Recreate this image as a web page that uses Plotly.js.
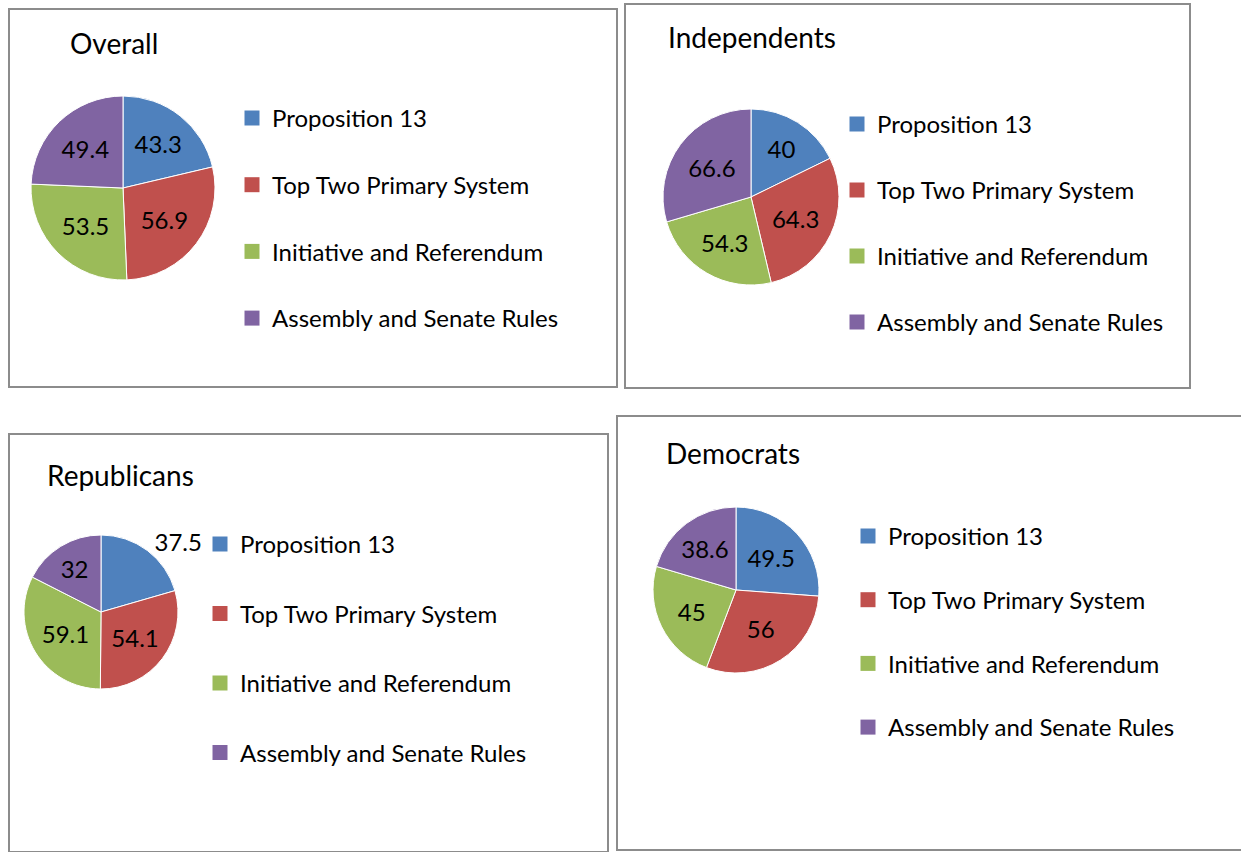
<!DOCTYPE html>
<html>
<head>
<meta charset="utf-8">
<script src="https://cdn.plot.ly/plotly-3.0.1.min.js"></script>
<style>
  body { margin: 0; background: white; }
  .panel { position: absolute; box-sizing: border-box; border: 2px solid #8c8c8c; background: white; }
</style>
</head>
<body>
<div id="overall" class="panel"></div>
<div id="independents" class="panel"></div>
<div id="republicans" class="panel"></div>
<div id="democrats" class="panel"></div>
<script>
// Four Excel-style pie charts, each in its own bordered box.

const categories = ["Proposition 13", "Top Two Primary System", "Initiative and Referendum", "Assembly and Senate Rules"];
const sliceColors = ["#4F81BD", "#C0504D", "#9BBB59", "#8064A2"];

const overallValues = [43.3, 56.9, 53.5, 49.4];
const independentValues = [40, 64.3, 54.3, 66.6];
const republicanValues = [37.5, 54.1, 59.1, 32];
const democratValues = [49.5, 56, 45, 38.6];

const FONT = "Lato, 'Open Sans', sans-serif";

// Page-pixel geometry for each box: box [x0, y0, x1, y1], title [x, y], pie [cx, cy, r],
// legend [symbol centre x, first item centre y, item spacing].
const PANELS = [
  { id: "overall", title: "Overall", values: overallValues,
    box: [8, 8, 618, 388], titleAt: [70, 44], pie: [123, 188, 92], legend: [255, 118, 66.7] },
  { id: "independents", title: "Independents", values: independentValues,
    box: [624, 3, 1191, 389], titleAt: [668, 38], pie: [751, 197, 88], legend: [860, 124, 66] },
  { id: "republicans", title: "Republicans", values: republicanValues,
    box: [8, 433, 609, 853], titleAt: [47, 476], pie: [101, 612, 77], legend: [223, 544, 69.5],
    textpos: ["outside", "inside", "inside", "inside"] },
  { id: "democrats", title: "Democrats", values: democratValues,
    box: [616, 415, 1243, 851], titleAt: [666, 454], pie: [736, 590, 83], legend: [871, 536, 63.7] },
];

function drawPanel(p) {
  const [bx0, by0, bx1, by1] = p.box;
  const div = document.getElementById(p.id);
  Object.assign(div.style, { left: bx0 + "px", top: by0 + "px", width: (bx1 - bx0) + "px", height: (by1 - by0) + "px" });
  const ox = bx0 + 2, oy = by0 + 2;
  const w = bx1 - bx0 - 4, h = by1 - by0 - 4;
  const px = (x) => (x - ox) / w;
  const py = (y) => 1 - (y - oy) / h;
  const [cx, cy, r] = p.pie;
  const [lx, ly, gap] = p.legend;
  const legendFont = 24;
  const itemH = legendFont * 1.3 + 3;

  const pie = {
    type: "pie", labels: categories, values: p.values, sort: false,
    direction: "clockwise", rotation: 0,
    marker: { colors: sliceColors, line: { color: "#ffffff", width: 1 } },
    textinfo: "value", textposition: p.textpos || "inside", insidetextorientation: "horizontal",
    textfont: { family: FONT, size: 24, color: "#000000" },
    showlegend: false, hoverinfo: "label+value",
    domain: { x: [px(cx - r), px(cx + r)], y: [py(cy + r), py(cy - r)] },
  };
  // Legend entries as empty square-marker traces, so the item spacing can be set with tracegroupgap.
  const keys = categories.map((c, i) => ({
    type: "scatter", mode: "markers", x: [null], y: [null], name: c, legendgroup: "k" + i,
    marker: { symbol: "square", size: 15, color: sliceColors[i] }, hoverinfo: "skip",
  }));

  const layout = {
    width: w, height: h,
    margin: { l: 0, r: 0, t: 0, b: 0 },
    paper_bgcolor: "white", plot_bgcolor: "rgba(0,0,0,0)",
    font: { family: FONT, color: "#000000" },
    title: { text: p.title, font: { family: FONT, size: 28, color: "#000000" },
      xref: "container", yref: "container", x: (p.titleAt[0] - ox) / w, xanchor: "left",
      y: 1 - (p.titleAt[1] - oy) / h, yanchor: "middle" },
    xaxis: { visible: false }, yaxis: { visible: false },
    showlegend: true,
    legend: { x: px(lx - 23), xanchor: "left", y: py(ly - itemH / 2 - 5), yanchor: "top",
      traceorder: "grouped", tracegroupgap: gap - itemH, font: { family: FONT, size: legendFont },
      bgcolor: "rgba(0,0,0,0)", borderwidth: 0 },
  };
  window.Plotly.newPlot(div, [pie].concat(keys), layout, { displayModeBar: false, staticPlot: true });
}

PANELS.forEach(drawPanel);
</script>
</body>
</html>
